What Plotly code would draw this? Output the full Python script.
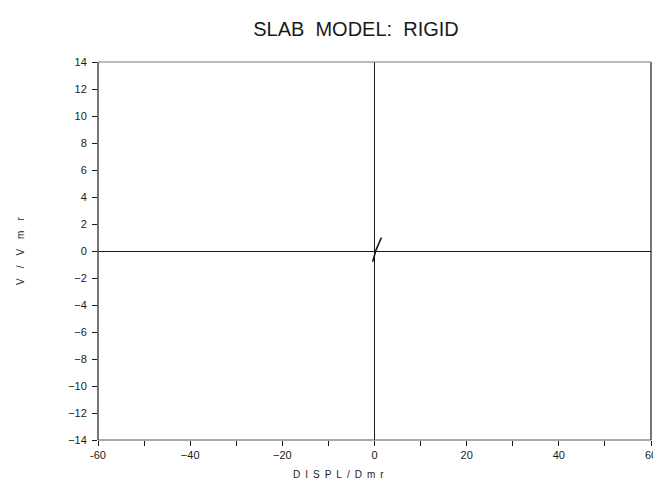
import plotly.graph_objects as go

# Data
disp = [-0.4, 0.3, 1.5]          # DISPL/Dmr
vel = [-0.8, 0.05, 1.0]          # V/Vmr
x_tick_vals = [-60, -40, -20, 0, 20, 40, 60]
x_tick_text = ["-60", "−40", "−20", "0", "20", "40", "60"]
y_tick_vals = [-14, -12, -10, -8, -6, -4, -2, 0, 2, 4, 6, 8, 10, 12, 14]
y_tick_text = ["−14", "−12", "−10", "−8", "−6", "−4", "−2", "0", "2", "4", "6", "8", "10", "12", "14"]

title_text = "SLAB\u00a0\u00a0MODEL:\u00a0\u00a0RIGID"
x_title = "\u2002".join(list("DISPL/Dmr"))
y_title = "\u2003".join(list("V/Vmr"))

FONT = "Liberation Sans, Arial, sans-serif"
INK = "#1a1a1a"

fig = go.Figure()
fig.add_trace(go.Scatter(x=disp, y=vel, mode="lines",
                         line=dict(color=INK, width=1.6), showlegend=False,
                         hoverinfo="skip"))

fig.update_layout(
    width=661, height=490,
    margin=dict(l=90, r=14, t=54, b=58),
    paper_bgcolor="white", plot_bgcolor="white",
    font=dict(family=FONT, color=INK, size=11),
    title=dict(text=title_text, x=348 / 661, xref="container", xanchor="center",
               y=1 - 21 / 490, yref="container", yanchor="middle",
               font=dict(family=FONT, size=20, color=INK)),
    showlegend=False,
)

fig.update_xaxes(range=[-60, 60], tickvals=x_tick_vals, ticktext=x_tick_text,
                 ticks="outside", ticklen=5, tickcolor=INK, tickwidth=1,
                 minor=dict(dtick=10, tick0=0, ticks="outside", ticklen=5, tickcolor=INK),
                 showgrid=False, zeroline=True, zerolinecolor=INK, zerolinewidth=1,
                 showline=False, tickfont=dict(size=11, color=INK))
fig.update_yaxes(range=[-14, 14], tickvals=y_tick_vals, ticktext=y_tick_text,
                 ticks="outside", ticklen=5, tickcolor=INK, tickwidth=1,
                 ticklabelstandoff=3,
                 showgrid=False, zeroline=True, zerolinecolor=INK, zerolinewidth=1,
                 showline=False, tickfont=dict(size=11, color=INK))

# frame
fig.add_shape(type="line", xref="x domain", yref="y domain", x0=0, x1=0, y0=0, y1=1,
              line=dict(color=INK, width=1.2))
fig.add_shape(type="line", xref="x domain", yref="y domain", x0=1, x1=1, y0=0, y1=1,
              line=dict(color=INK, width=1.2))
fig.add_shape(type="line", xref="x domain", yref="y domain", x0=0, x1=1, y0=0, y1=0,
              line=dict(color="#555", width=1))
fig.add_shape(type="line", xref="x domain", yref="y domain", x0=0, x1=1, y0=1, y1=1,
              line=dict(color="#777", width=1))

fig.add_annotation(text=x_title, xref="paper", yref="paper", x=(332 - 90) / 557, y=0,
                   xanchor="center", yanchor="middle", yshift=-34, showarrow=False,
                   font=dict(family=FONT, size=10, color=INK))
fig.add_annotation(text=y_title, xref="paper", yref="paper", x=0, y=0.5,
                   xanchor="center", yanchor="middle", xshift=-78, textangle=-90,
                   showarrow=False, font=dict(family=FONT, size=10, color=INK))

fig.write_html("out.html")
